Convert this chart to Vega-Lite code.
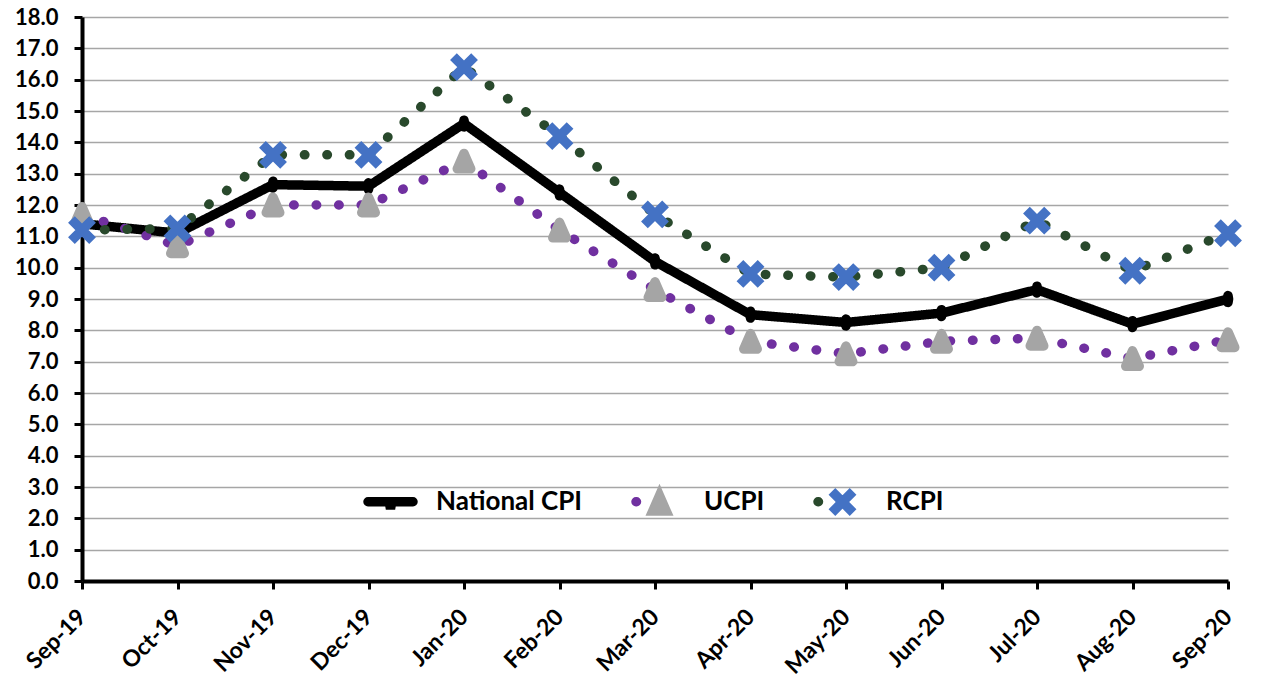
{
  "$schema": "https://vega.github.io/schema/vega-lite/v6.json",
  "width": 1146,
  "height": 564,
  "autosize": {"type": "none"},
  "padding": {"left": 82, "top": 17, "right": 38, "bottom": 117},
  "background": "white",
  "config": {"view": {"stroke": null}, "font": "Lato"},
  "data": {"values": [
    {"month": "Sep-19", "series": "National CPI", "ord": 1, "value": 11.4},
    {"month": "Oct-19", "series": "National CPI", "ord": 1, "value": 11.1},
    {"month": "Nov-19", "series": "National CPI", "ord": 1, "value": 12.65},
    {"month": "Dec-19", "series": "National CPI", "ord": 1, "value": 12.6},
    {"month": "Jan-20", "series": "National CPI", "ord": 1, "value": 14.6},
    {"month": "Feb-20", "series": "National CPI", "ord": 1, "value": 12.4},
    {"month": "Mar-20", "series": "National CPI", "ord": 1, "value": 10.2},
    {"month": "Apr-20", "series": "National CPI", "ord": 1, "value": 8.5},
    {"month": "May-20", "series": "National CPI", "ord": 1, "value": 8.25},
    {"month": "Jun-20", "series": "National CPI", "ord": 1, "value": 8.55},
    {"month": "Jul-20", "series": "National CPI", "ord": 1, "value": 9.3},
    {"month": "Aug-20", "series": "National CPI", "ord": 1, "value": 8.2},
    {"month": "Sep-20", "series": "National CPI", "ord": 1, "value": 9.0},
    {"month": "Sep-19", "series": "UCPI", "ord": 2, "value": 11.7},
    {"month": "Oct-19", "series": "UCPI", "ord": 2, "value": 10.7},
    {"month": "Nov-19", "series": "UCPI", "ord": 2, "value": 12.0},
    {"month": "Dec-19", "series": "UCPI", "ord": 2, "value": 12.0},
    {"month": "Jan-20", "series": "UCPI", "ord": 2, "value": 13.4},
    {"month": "Feb-20", "series": "UCPI", "ord": 2, "value": 11.2},
    {"month": "Mar-20", "series": "UCPI", "ord": 2, "value": 9.3},
    {"month": "Apr-20", "series": "UCPI", "ord": 2, "value": 7.65},
    {"month": "May-20", "series": "UCPI", "ord": 2, "value": 7.25},
    {"month": "Jun-20", "series": "UCPI", "ord": 2, "value": 7.65},
    {"month": "Jul-20", "series": "UCPI", "ord": 2, "value": 7.75},
    {"month": "Aug-20", "series": "UCPI", "ord": 2, "value": 7.1},
    {"month": "Sep-20", "series": "UCPI", "ord": 2, "value": 7.7},
    {"month": "Sep-19", "series": "RCPI", "ord": 3, "value": 11.2},
    {"month": "Oct-19", "series": "RCPI", "ord": 3, "value": 11.25},
    {"month": "Nov-19", "series": "RCPI", "ord": 3, "value": 13.6},
    {"month": "Dec-19", "series": "RCPI", "ord": 3, "value": 13.6},
    {"month": "Jan-20", "series": "RCPI", "ord": 3, "value": 16.4},
    {"month": "Feb-20", "series": "RCPI", "ord": 3, "value": 14.2},
    {"month": "Mar-20", "series": "RCPI", "ord": 3, "value": 11.7},
    {"month": "Apr-20", "series": "RCPI", "ord": 3, "value": 9.8},
    {"month": "May-20", "series": "RCPI", "ord": 3, "value": 9.7},
    {"month": "Jun-20", "series": "RCPI", "ord": 3, "value": 10.0},
    {"month": "Jul-20", "series": "RCPI", "ord": 3, "value": 11.5},
    {"month": "Aug-20", "series": "RCPI", "ord": 3, "value": 9.9},
    {"month": "Sep-20", "series": "RCPI", "ord": 3, "value": 11.1}
  ]},
  "encoding": {
    "x": {
      "field": "month", "type": "ordinal",
      "scale": {"type": "point", "padding": 0, "domain": ["Sep-19","Oct-19","Nov-19","Dec-19","Jan-20","Feb-20","Mar-20","Apr-20","May-20","Jun-20","Jul-20","Aug-20","Sep-20"]},
      "axis": {
        "title": null, "labelAngle": -45, "labelAlign": "right", "labelBaseline": "middle",
        "labelFont": "Lato", "labelFontSize": 23, "labelFontWeight": "bold", "labelColor": "black",
        "domainColor": "black", "domainWidth": 4, "tickColor": "black", "tickWidth": 3, "tickSize": 8, "labelPadding": 24, "grid": false
      }
    },
    "y": {
      "field": "value", "type": "quantitative",
      "scale": {"domain": [0, 18], "nice": false},
      "axis": {
        "title": null, "values": [0,1,2,3,4,5,6,7,8,9,10,11,12,13,14,15,16,17,18], "format": ".1f",
        "labelFont": "Lato", "labelFontSize": 22, "labelFontWeight": "bold", "labelColor": "black",
        "domainColor": "black", "domainWidth": 4, "tickColor": "black", "tickWidth": 3, "tickSize": 8, "labelPadding": 16,
        "grid": true, "gridColor": "#A6A6A6", "gridWidth": 1.5
      }
    }
  },
  "layer": [
    {
      "mark": {"type": "line", "strokeWidth": 9.5, "strokeCap": "round", "strokeJoin": "miter"},
      "encoding": {
        "color": {
          "field": "series", "type": "nominal",
          "scale": {"domain": ["National CPI", "UCPI", "RCPI"], "range": ["#000000", "#7030A0", "#29492C"]},
          "legend": {
            "orient": "none", "legendX": 281, "legendY": 457, "direction": "horizontal", "title": null,
            "symbolType": "M-1.05,0M1.05,0M-1,0L1,0", "symbolSize": 2025, "symbolStrokeWidth": 9.5, "symbolOffset": 0,
            "labelFont": "Lato", "labelFontSize": 26, "labelFontWeight": "bold", "labelColor": "black",
            "labelOffset": 18, "columnPadding": 47,
            "encode": {"symbols": {"update": {"strokeCap": {"value": "round"}, "strokeJoin": {"value": "round"}}}}
          }
        },
        "strokeDash": {
          "field": "series", "type": "nominal",
          "scale": {"domain": ["National CPI", "UCPI", "RCPI"], "range": [[1, 0], [0.5, 22], [0.5, 22]]}
        }
      }
    },
    {
      "mark": {"type": "point", "filled": true, "size": 2025, "strokeWidth": 9.5, "strokeJoin": "round", "strokeCap": "butt", "opacity": 1},
      "encoding": {
        "fill": {
          "field": "series", "type": "nominal", "sort": {"field": "ord", "op": "min"},
          "scale": {"range": ["#000000", "#A5A5A5", "#4472C4"]},
          "legend": {
            "orient": "none", "legendX": 281, "legendY": 457, "direction": "horizontal", "title": null,
            "symbolSize": 2025, "symbolStrokeWidth": 9.5, "symbolOffset": 0,
            "labelFont": "Lato", "labelFontSize": 26, "labelFontWeight": "bold", "labelOpacity": 0,
            "labelOffset": 18, "columnPadding": 33,
            "encode": {"symbols": {"update": {"strokeJoin": {"value": "round"}, "strokeCap": {"value": "butt"}}}}
          }
        },
        "stroke": {
          "field": "series", "type": "nominal", "sort": {"field": "ord", "op": "min"},
          "scale": {"range": ["#000000", "#A5A5A5", "#4472C4"]}
        },
        "shape": {
          "field": "series", "type": "nominal", "sort": {"field": "ord", "op": "min"},
          "scale": {"range": [
            "M-1.05,0M1.05,0M0,-0.15L0.025,0L0,0.15L-0.025,0Z",
            "M-1.05,0M1.05,0M0,-0.344L0.3,0.344L-0.3,0.344Z",
            "M-1.05,0M1.05,0M-0.47,-0.47L0.47,0.47M-0.47,0.47L0.47,-0.47"
          ]}
        }
      }
    }
  ]
}
